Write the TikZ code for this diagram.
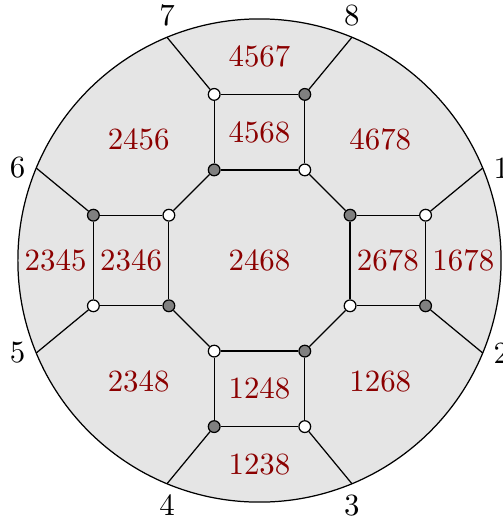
\documentclass[tikz,border=0pt]{standalone}
\usepackage{tikz}
\usetikzlibrary{positioning}
\definecolor{regred}{RGB}{139,0,0}

\begin{document}
\begin{tikzpicture}[
  x=0.6875cm, y=0.6875cm,
  wv/.style={circle, draw, fill=white, inner sep=0pt, minimum size=3.8pt},
  gv/.style={circle, draw, fill=gray, inner sep=0pt, minimum size=3.8pt},
  reg/.style={text=regred},
  e/.style={black}
]
\useasboundingbox (-4.296,-4.263) rectangle (4.031,4.313);
\draw[fill=gray!20] (0,0) circle (4);
% boundary points
\coordinate (p1) at (22.5:4);
\coordinate (p2) at (-22.5:4);
\coordinate (p3) at (-67.5:4);
\coordinate (p4) at (-112.5:4);
\coordinate (p5) at (-157.5:4);
\coordinate (p6) at (157.5:4);
\coordinate (p7) at (112.5:4);
\coordinate (p8) at (67.5:4);
\node[right] (l1) at (p1) {1};
\node[right] (l2) at (p2) {2};
\node[below] (l3) at (p3) {3};
\node[below] (l4) at (p4) {4};
\node[left] (l5) at (p5) {5};
\node[left] (l6) at (p6) {6};
\node[above] (l7) at (p7) {7};
\node[above] (l8) at (p8) {8};
% top square
\node[wv] (t1) at (-0.75,2.75) {};
\node[gv] (t2) at (0.75,2.75) {};
\node[gv] (t3) at (-0.75,1.5) {};
\node[wv] (t4) at (0.75,1.5) {};
% right square
\node[gv] (r1) at (1.5,0.75) {};
\node[wv] (r2) at (2.75,0.75) {};
\node[wv] (r3) at (1.5,-0.75) {};
\node[gv] (r4) at (2.75,-0.75) {};
% bottom square
\node[wv] (b1) at (-0.75,-1.5) {};
\node[gv] (b2) at (0.75,-1.5) {};
\node[gv] (b3) at (-0.75,-2.75) {};
\node[wv] (b4) at (0.75,-2.75) {};
% left square
\node[gv] (s1) at (-2.75,0.75) {};
\node[wv] (s2) at (-1.5,0.75) {};
\node[wv] (s3) at (-2.75,-0.75) {};
\node[gv] (s4) at (-1.5,-0.75) {};
% squares
\draw[e] (t1) -- (t2) -- (t4) -- (t3) -- (t1);
\draw[e] (r1) -- (r2) -- (r4) -- (r3) -- (r1);
\draw[e] (b1) -- (b2) -- (b4) -- (b3) -- (b1);
\draw[e] (s1) -- (s2) -- (s4) -- (s3) -- (s1);
% inner edges
\draw[e] (t4) -- (r1); \draw[e] (r3) -- (b2);
\draw[e] (b1) -- (s4); \draw[e] (s2) -- (t3);
% outer edges
\draw[e] (r2) -- (p1); \draw[e] (r4) -- (p2);
\draw[e] (b4) -- (p3); \draw[e] (b3) -- (p4);
\draw[e] (s3) -- (p5); \draw[e] (s1) -- (p6);
\draw[e] (t1) -- (p7); \draw[e] (t2) -- (p8);
% regions
\node[reg] (f2468) at (0,0) {2468};
\node[reg] (f4568) at (0,2.125) {4568};
\node[reg] (f4567) at (0,3.375) {4567};
\node[reg] (f2678) at (2.125,0) {2678};
\node[reg] (f1678) at (3.375,0) {1678};
\node[reg] (f1248) at (0,-2.125) {1248};
\node[reg] (f1238) at (0,-3.375) {1238};
\node[reg] (f2346) at (-2.125,0) {2346};
\node[reg] (f2345) at (-3.375,0) {2345};
\node[reg] (f4678) at (2,2) {4678};
\node[reg] (f1268) at (2,-2) {1268};
\node[reg] (f2348) at (-2,-2) {2348};
\node[reg] (f2456) at (-2,2) {2456};
\end{tikzpicture}
\end{document}
